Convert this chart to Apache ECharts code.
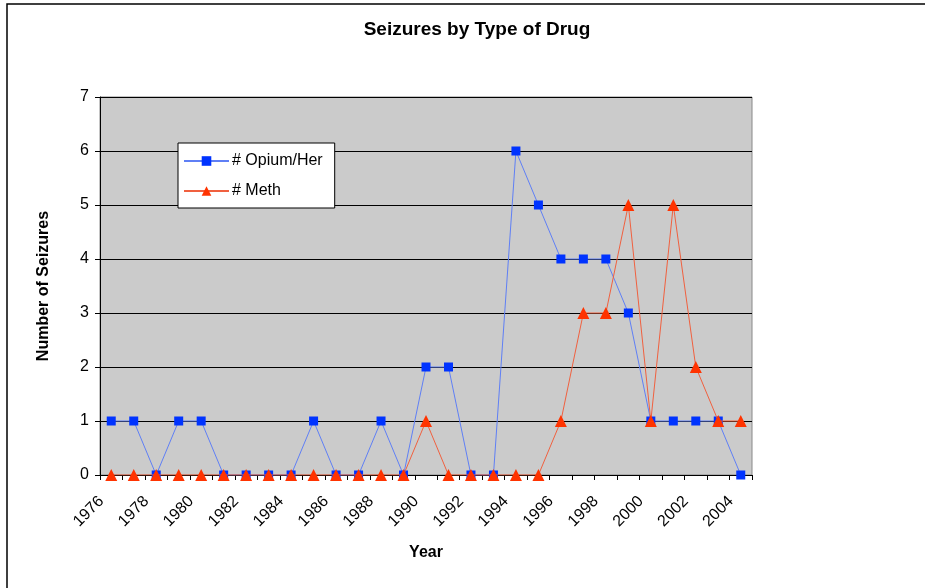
<!DOCTYPE html>
<html>
<head>
<meta charset="utf-8">
<script src="https://cdn.jsdelivr.net/npm/echarts@6/dist/echarts.min.js"></script>
<style>
  html, body { margin: 0; padding: 0; background: #fff; }
  #chart { width: 925px; height: 588px; }
</style>
</head>
<body>
<div id="chart"></div>
<script>
  'use strict'

  var years = ['1976','1977','1978','1979','1980','1981','1982','1983','1984','1985',
               '1986','1987','1988','1989','1990','1991','1992','1993','1994','1995',
               '1996','1997','1998','1999','2000','2001','2002','2003','2004'];
  var opium = [1,1,0,1,1,0,0,0,0,1, 0,0,1,0,2,2,0,0,6,5, 4,4,4,3,1,1,1,1,0];
  var meth  = [0,0,0,0,0,0,0,0,0,0, 0,0,0,0,1,0,0,0,0,0, 1,3,3,5,1,5,2,1,1];

  var font = 'Liberation Sans, Arial, sans-serif';

  var chart = echarts.init(document.getElementById('chart'));

  var option = {
    backgroundColor: '#fff',
    animation: false,
    graphic: [{
      type: 'rect',
      shape: { x: 7, y: 4, width: 1000, height: 700 },
      style: { fill: 'none', stroke: '#000', lineWidth: 1.5 },
      silent: true
    }],
    title: {
      text: 'Seizures by Type of Drug',
      left: 472,
      top: 15,
      textAlign: 'center',
      textStyle: { fontFamily: font, fontSize: 19, fontWeight: 'bold', color: '#000' }
    },
    legend: {
      orient: 'vertical',
      left: 178,
      top: 143,
      padding: [10, 12, 9, 5],
      backgroundColor: '#fff',
      borderColor: '#000',
      borderWidth: 1,
      itemWidth: 45,
      itemHeight: 12,
      itemGap: 14,
      textStyle: { fontFamily: font, fontSize: 16, color: '#000', padding: [0, 0, 0, -2] },
      data: ['# Opium/Her', '# Meth']
    },
    grid: {
      left: 100,
      top: 97,
      right: 173,
      bottom: 113,
      show: true,
      backgroundColor: '#cbcbcb',
      borderColor: '#888',
      borderWidth: 1
    },
    xAxis: {
      type: 'category',
      data: years,
      boundaryGap: true,
      name: 'Year',
      nameLocation: 'middle',
      nameGap: 70,
      nameTextStyle: { fontFamily: font, fontSize: 16, fontWeight: 'bold', color: '#000' },
      axisLine: { lineStyle: { color: '#000', width: 1 } },
      axisTick: { show: true, interval: 0, length: 5, lineStyle: { color: '#000' } },
      axisLabel: {
        interval: 1,
        rotate: 45,
        margin: 14,
        padding: [0, 14, 0, 0],
        fontFamily: font,
        fontSize: 16,
        color: '#000'
      },
      splitLine: { show: false }
    },
    yAxis: {
      type: 'value',
      min: 0,
      max: 7,
      interval: 1,
      name: 'Number of Seizures',
      nameLocation: 'middle',
      nameGap: 48,
      nameTextStyle: { fontFamily: font, fontSize: 16, fontWeight: 'bold', color: '#000' },
      axisLine: { show: true, lineStyle: { color: '#000', width: 1 } },
      axisTick: { show: true, length: 5, lineStyle: { color: '#000' } },
      axisLabel: { margin: 11, fontFamily: font, fontSize: 16, color: '#000' },
      splitLine: { show: true, lineStyle: { color: '#000', width: 1 } }
    },
    series: [
      {
        name: '# Opium/Her',
        type: 'line',
        data: opium,
        symbol: 'rect',
        symbolSize: 9,
        color: '#0033ff',
        lineStyle: { color: '#5f7ff5', width: 1 },
        itemStyle: { color: '#0033ff' },
        z: 3
      },
      {
        name: '# Meth',
        type: 'line',
        data: meth,
        symbol: 'triangle',
        symbolSize: 12,
        color: '#ff3300',
        lineStyle: { color: '#f0603f', width: 1 },
        itemStyle: { color: '#ff3300' },
        z: 4
      }
    ]
  };

  chart.setOption(option);
</script>
</body>
</html>
